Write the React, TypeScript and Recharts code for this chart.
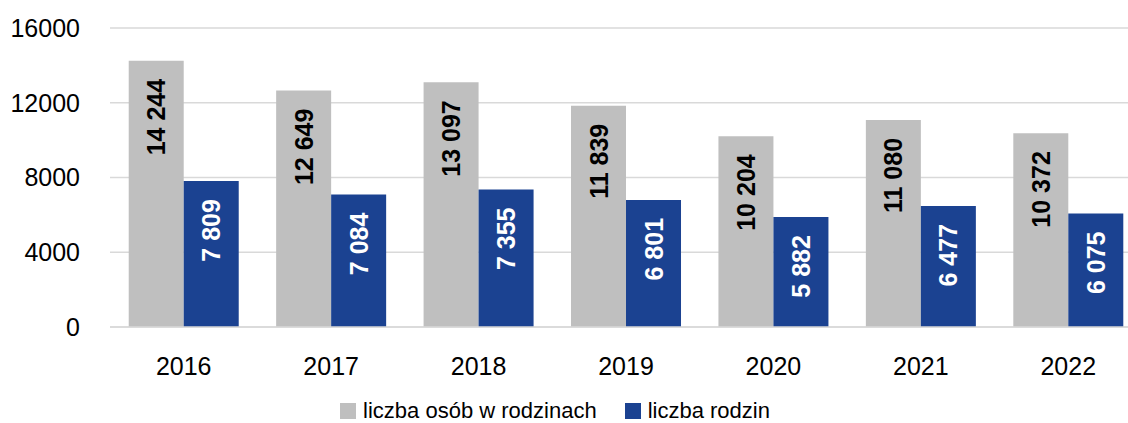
import React from "react";
import { BarChart, Bar, XAxis, YAxis, CartesianGrid, Legend, LabelList } from "recharts";

const years = ["2016", "2017", "2018", "2019", "2020", "2021", "2022"];
const persons = [14244, 12649, 13097, 11839, 10204, 11080, 10372];
const families = [7809, 7084, 7355, 6801, 5882, 6477, 6075];
const yTicks = [0, 4000, 8000, 12000, 16000];
const seriesNames = ["liczba osób w rodzinach", "liczba rodzin"];
const colors = ["#bfbfbf", "#1b4291"];

const data = years.map((y, i) => ({ year: y, persons: persons[i], families: families[i] }));

const FONT = "'Liberation Sans', Arial, sans-serif";

const fmt = (v: number) => String(v).replace(/\B(?=(\d{3})+(?!\d))/g, " ");

const makeLabel = (fill: string) => (props: any) => {
  const { x, y, width, value } = props;
  const cx = Number(x) + Number(width) / 2;
  const ty = Number(y) + 18;
  return (
    <text
      x={cx}
      y={ty}
      transform={`rotate(-90 ${cx} ${ty})`}
      textAnchor="end"
      dominantBaseline="central"
      fill={fill}
      fontFamily={FONT}
      fontWeight="bold"
      fontSize={25}
    >
      {fmt(value)}
    </text>
  );
};

const renderLegend = () => (
  <div
    style={{
      display: "flex",
      justifyContent: "center",
      alignItems: "center",
      fontFamily: FONT,
      fontSize: 22,
      lineHeight: "22px",
      color: "#000",
      paddingTop: 27,
      width: 1110,
    }}
  >
    {seriesNames.map((n, i) => (
      <div key={n} style={{ display: "flex", alignItems: "center", marginRight: i === 0 ? 28 : 0 }}>
        <div style={{ width: 16, height: 16, background: colors[i], marginRight: 7 }} />
        <span>{n}</span>
      </div>
    ))}
  </div>
);

export default function App() {
  return (
    <div style={{ position: "absolute", left: 0, top: 0, width: 1128, height: 423, overflow: "hidden", background: "#fff" }}>
      <BarChart
        width={1142}
        height={423}
        data={data}
        margin={{ top: 28, right: 0, bottom: 0, left: 0 }}
        barGap={0}
        barCategoryGap="12.7%"
      >
        <CartesianGrid vertical={false} stroke="#d9d9d9" strokeWidth={1.5} />
        <XAxis
          dataKey="year"
          axisLine={{ stroke: "#d9d9d9", strokeWidth: 1.5 }}
          tickLine={false}
          tickSize={0}
          tickMargin={30}
          height={46}
          tick={{ fill: "#000", fontFamily: FONT, fontSize: 25 }}
        />
        <YAxis
          domain={[0, 16000]}
          ticks={yTicks}
          axisLine={false}
          tickLine={false}
          tickSize={0}
          tickMargin={30}
          width={110}
          interval={0}
          tick={{ fill: "#000", fontFamily: FONT, fontSize: 25 }}
        />
        <Legend verticalAlign="bottom" align="left" height={50} content={renderLegend} />
        <Bar dataKey="persons" name={seriesNames[0]} fill={colors[0]} isAnimationActive={false}>
          <LabelList dataKey="persons" content={makeLabel("#000")} />
        </Bar>
        <Bar dataKey="families" name={seriesNames[1]} fill={colors[1]} isAnimationActive={false}>
          <LabelList dataKey="families" content={makeLabel("#fff")} />
        </Bar>
      </BarChart>
    </div>
  );
}
